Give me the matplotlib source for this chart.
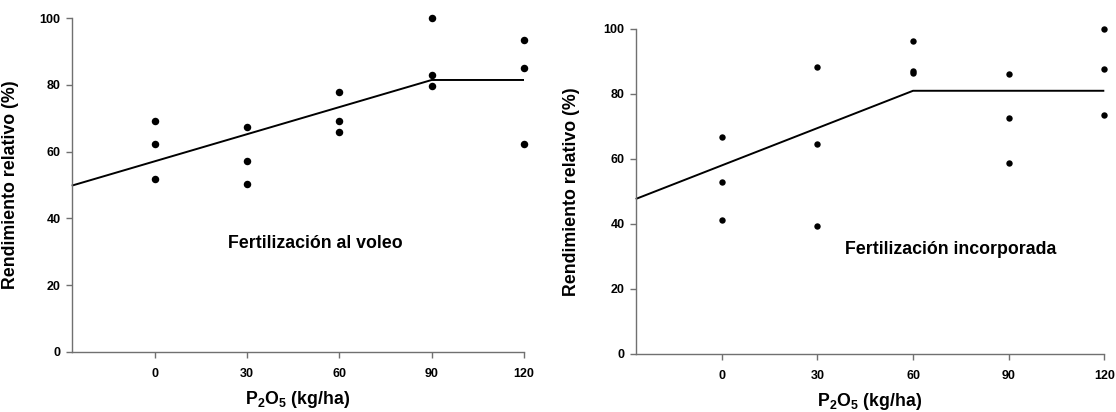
import matplotlib
matplotlib.use("Agg")
import matplotlib.pyplot as plt

plt.rcParams['font.family'] = ['Liberation Sans', 'DejaVu Sans']
plt.rcParams['mathtext.fontset'] = 'custom'
plt.rcParams['mathtext.rm'] = 'Liberation Sans'
plt.rcParams['mathtext.bf'] = 'Liberation Sans:bold'

# ---- data ----
dose_levels = [0, 30, 60, 90, 120]

voleo_x = [0, 0, 0, 30, 30, 30, 60, 60, 60, 90, 90, 90, 120, 120, 120]
voleo_y = [69.3, 62.3, 51.9, 67.5, 57.1, 50.2, 77.9, 69.3, 65.8, 100.0, 83.1, 79.6, 93.4, 85.2, 62.3]
voleo_fit_x = [-27, 90, 120]
voleo_fit_y = [49.8, 81.5, 81.5]

incorp_x = [0, 0, 0, 30, 30, 30, 60, 60, 60, 90, 90, 90, 120, 120, 120]
incorp_y = [66.6, 52.9, 41.0, 88.1, 64.6, 39.2, 96.3, 86.9, 86.5, 86.2, 72.4, 58.8, 100.0, 87.6, 73.5]
incorp_fit_x = [-27, 60, 120]
incorp_fit_y = [47.6, 80.9, 80.9]

y_ticks = [0, 20, 40, 60, 80, 100]
x_label = r"$\mathbf{P_2O_5}$ (kg/ha)"
y_label = "Rendimiento relativo (%)"
titles = ["Fertilización al voleo", "Fertilización incorporada"]

W, H = 1116, 412
fig = plt.figure(figsize=(W / 100, H / 100), dpi=100)

def px_axes(x0, x1, ytop, ybot):
    return fig.add_axes([x0 / W, 1 - ybot / H, (x1 - x0) / W, (ybot - ytop) / H])

ax1 = px_axes(71.7, 524.0, 18.3, 351.7)
ax2 = px_axes(635.7, 1104.3, 28.7, 353.7)

panels = [
    (ax1, voleo_x, voleo_y, voleo_fit_x, voleo_fit_y, 5.4),
    (ax2, incorp_x, incorp_y, incorp_fit_x, incorp_fit_y, 4.6),
]

spine_col = "#707070"
for i, (ax, xs, ys, fx, fy, ms) in enumerate(panels):
    ax.plot(fx, fy, color="black", lw=1.4, solid_capstyle="butt", clip_on=False, zorder=2)
    ax.plot(xs, ys, "o", color="black", ms=ms, mew=0, clip_on=False, zorder=3)
    ax.set_xlim(-27, 120)
    ax.set_ylim(0, 100)
    ax.set_xticks(dose_levels)
    ax.set_yticks(y_ticks)
    for side in ("top", "right"):
        ax.spines[side].set_visible(False)
    for side in ("left", "bottom"):
        ax.spines[side].set_color(spine_col)
        ax.spines[side].set_linewidth(1.0)
    ax.tick_params(axis="y", direction="out", length=4, width=1.0, color=spine_col, pad=4,
                   labelsize=9)
    ax.tick_params(axis="x", direction="out", length=4, width=1.0, color=spine_col, pad=7.5,
                   labelsize=9)
    for lab in ax.get_xticklabels() + ax.get_yticklabels():
        lab.set_fontweight("bold")
    ax.set_xlabel(x_label, fontsize=12.8, fontweight="bold", labelpad=7)
    ax.set_ylabel(y_label, fontsize=12.8, fontweight="bold")

ax1.yaxis.set_label_coords((18.7 - 71.7) / (524.0 - 71.7), 0.5)
ax2.yaxis.set_label_coords((580.0 - 635.7) / (1104.3 - 635.7), 0.5)

ax1.text((228.3 - 71.7) / (524.0 - 71.7), 1 - (243.5 - 18.3) / (351.7 - 18.3), titles[0],
         transform=ax1.transAxes, fontsize=12.8, fontweight="bold", ha="left", va="center")
ax2.text((844.8 - 635.7) / (1104.3 - 635.7), 1 - (250.0 - 28.7) / (353.7 - 28.7), titles[1],
         transform=ax2.transAxes, fontsize=12.8, fontweight="bold", ha="left", va="center")

fig.savefig("out.png", dpi=100)
